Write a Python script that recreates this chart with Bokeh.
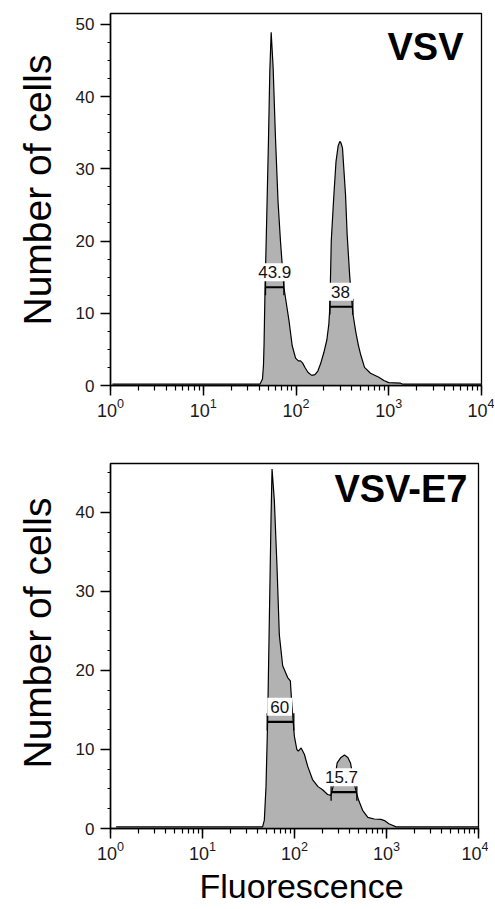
from bokeh.plotting import figure
from bokeh.models import Label, SingleIntervalTicker, Range1d, Title
from bokeh.layouts import column
from bokeh.embed import file_html
from bokeh.resources import INLINE

FONT = "Liberation Sans"

# ---------------- data ----------------
x_range_lims = [1, 10000]

vsv_x = [1.05, 41, 43.5, 44.6, 45.3, 46.3, 47.7, 50.5, 52.2, 54, 56.7, 60, 64, 68, 74, 84, 91, 99,
         106, 112, 118, 125, 135, 148, 160, 172, 184, 200, 215, 226, 232, 240, 255, 270, 285, 297,
         305, 317, 342, 356, 380, 410, 440, 470, 495, 548, 636, 782, 885, 1000, 1340, 1400, 9900]
vsv_y = [0.2, 0.2, 0.9, 2.8, 6, 13, 20, 34, 43.5, 48.9, 44, 34.5, 25.5, 20, 13.6, 9, 5.5, 3.8,
         3.4, 3.4, 3.1, 2.5, 1.8, 1.4, 1.5, 2.0, 3.0, 4.6, 6.3, 8.5, 11, 20, 26, 31, 33.2, 33.8,
         33.6, 32.9, 26.4, 20.9, 15, 10, 7.5, 5.6, 4.4, 2.5, 1.7, 1.15, 0.7, 0.4, 0.32, 0.2, 0.2]

e7_x = [1.15, 45, 47, 49, 51.1, 53.3, 55.6, 57, 60.4, 64.6, 68.4, 74.4, 84.3, 90.1, 93.2, 99.6,
        106, 110, 118, 128, 139, 157, 180, 202, 229, 249, 265, 280, 291, 320, 349, 380, 406,
        440, 470, 497, 550, 627, 736, 870, 951, 1060, 1274, 9900]
e7_y = [0.2, 0.2, 1.06, 5.3, 13.8, 26.6, 39.4, 45.5, 41.5, 33, 24.5, 20.6, 19.1, 18.7, 16.0, 11.7,
        10, 9.8, 10.2, 9.4, 7.9, 6.2, 5.3, 4.9, 4.3, 4.2, 5.5, 7.0, 8.3, 9.0, 9.3, 9.0, 8.3,
        6.0, 4.6, 3.6, 2.3, 1.4, 1.2, 1.15, 1.0, 0.6, 0.2, 0.2]

vsv_gate_lo = [46.9, 232]
vsv_gate_hi = [74, 410]
vsv_gate_y = [13.6, 10.9]
vsv_gate_label_x = [59, 302]
vsv_gate_labels = ["43.9", "38"]

e7_gate_lo = [50.5, 250]
e7_gate_hi = [98.3, 476]
e7_gate_y = [13.5, 4.6]
e7_gate_label_x = [69, 324]
e7_gate_labels = ["60", "15.7"]

panel_titles = ["VSV", "VSV-E7"]
panel_title_x = [6400, 7590]
panel_title_y = [46.8, 43.0]
y_maxes = [51.5, 46.2]

y_label = "Number of cells"
x_label = "Fluorescence"

FILL = "#b2b2b2"


def make_panel(xs, ys, glo, ghi, gy, glx, glab, title, tx, ty, ymax,
               fw, fh, bl, bt, bb, br, show_xlabel):
    p = figure(x_axis_type="log", output_backend="svg", toolbar_location=None,
               x_range=Range1d(x_range_lims[0], x_range_lims[1]),
               y_range=Range1d(0, ymax),
               frame_width=fw, frame_height=fh,
               min_border_left=bl, min_border_top=bt, min_border_bottom=bb,
               min_border_right=br)
    p.grid.visible = False
    p.background_fill_color = "white"
    p.border_fill_color = "white"
    p.outline_line_color = "black"
    p.outline_line_width = 1.3
    p.outline_line_alpha = 1.0

    p.varea(x=xs, y1=[0] * len(xs), y2=ys, fill_color=FILL)
    p.line(x=xs, y=ys, line_color="black", line_width=1.2)

    # gates
    p.segment(x0=glo, y0=gy, x1=ghi, y1=gy, line_color="black", line_width=2.2)
    p.segment(x0=glo, y0=[v - 1.1 for v in gy], x1=glo, y1=[v + 1.1 for v in gy],
              line_color="black", line_width=1.3)
    p.segment(x0=ghi, y0=[v - 1.1 for v in gy], x1=ghi, y1=[v + 1.1 for v in gy],
              line_color="black", line_width=1.3)
    for lx, ly, lt in zip(glx, gy, glab):
        p.add_layout(Label(x=lx, y=ly, text=lt, y_offset=15,
                           text_align="center", text_baseline="middle",
                           text_font=FONT, text_font_size="17px", text_color="#111111",
                           background_fill_color="white", background_fill_alpha=1.0,
                           padding=3))

    p.add_layout(Label(x=tx, y=ty, text=title, text_align="right",
                       text_baseline="middle", text_font=FONT,
                       text_font_size="38px", text_font_style="bold",
                       text_color="black"))

    # axes
    yax = p.yaxis[0]
    yax.ticker = SingleIntervalTicker(interval=10, num_minor_ticks=4)
    yax.major_label_text_font = FONT
    yax.major_label_text_font_size = "17px"
    yax.major_label_text_color = "#1a1a1a"
    yax.major_label_standoff = 6
    yax.major_tick_out = 10
    yax.major_tick_in = 0
    yax.minor_tick_out = 3
    yax.minor_tick_in = 0

    xax = p.xaxis[0]
    xax.major_label_text_font = FONT
    xax.major_label_text_font_size = "18px"
    xax.major_label_text_color = "#1a1a1a"
    xax.major_label_standoff = 2
    xax.major_tick_out = 10
    xax.major_tick_in = 0
    xax.minor_tick_out = 5
    xax.minor_tick_in = 0

    for ax in (xax, yax):
        ax.axis_line_color = "black"
        ax.axis_line_width = 1.5
        ax.major_tick_line_color = "black"
        ax.major_tick_line_width = 1.5
        ax.minor_tick_line_color = "black"
        ax.minor_tick_line_width = 1.2

    # axis titles as side titles (so they can be shifted like in the reference)
    p.add_layout(Title(text=y_label, align="left", offset=60, standoff=24,
                       vertical_align="top",
                       text_font=FONT, text_font_size="39px", text_font_style="normal",
                       text_color="black"), "left")
    if show_xlabel:
        p.add_layout(Title(text=x_label, align="left", offset=89, standoff=4,
                           text_font=FONT, text_font_size="34px",
                           text_font_style="normal", text_color="black"), "below")
    return p


p1 = make_panel(vsv_x, vsv_y, vsv_gate_lo, vsv_gate_hi, vsv_gate_y, vsv_gate_label_x,
                vsv_gate_labels, panel_titles[0], panel_title_x[0], panel_title_y[0],
                y_maxes[0], fw=371, fh=372, bl=110, bt=13, bb=50, br=13, show_xlabel=False)
p2 = make_panel(e7_x, e7_y, e7_gate_lo, e7_gate_hi, e7_gate_y, e7_gate_label_x,
                e7_gate_labels, panel_titles[1], panel_title_x[1], panel_title_y[1],
                y_maxes[1], fw=368, fh=365, bl=106, bt=28, bb=0, br=13, show_xlabel=True)

layout = column(p1, p2, spacing=0)

open("out.html", "w").write(file_html(layout, INLINE))
